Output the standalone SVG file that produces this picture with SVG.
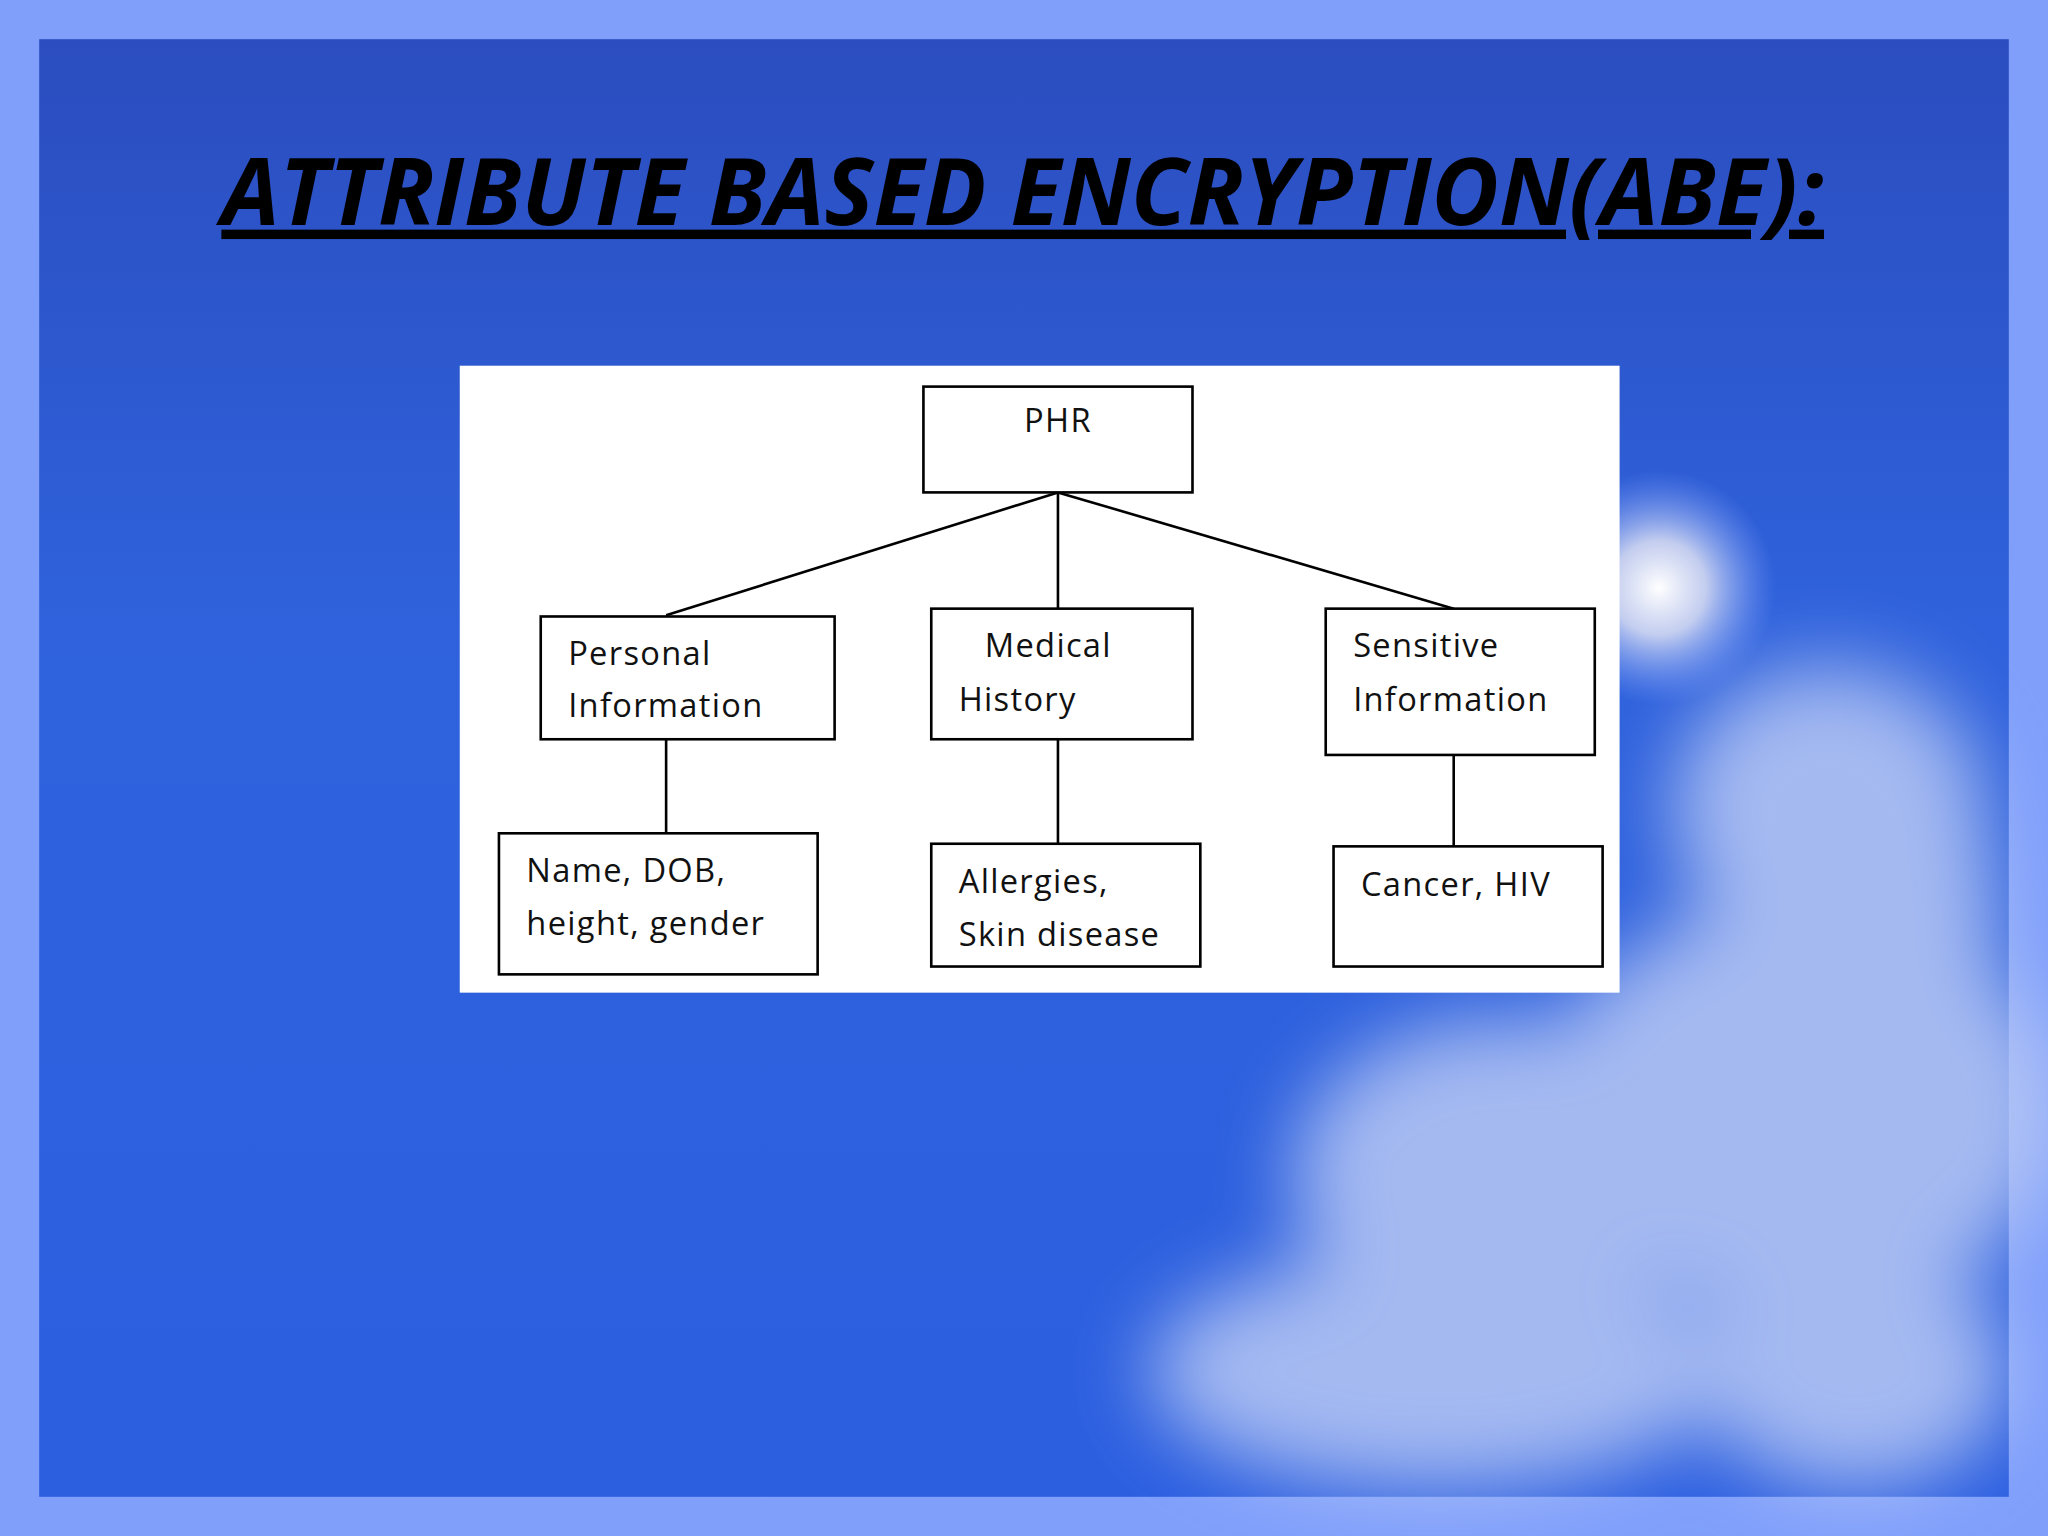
<svg xmlns="http://www.w3.org/2000/svg" width="2048" height="1536" viewBox="0 0 2048 1536">
<style>
.b{fill:#fff;stroke:#000;stroke-width:2}
.t{font-family:"Open Sans","DejaVu Sans",sans-serif;font-size:25px;fill:#111;letter-spacing:1px}
.c line{stroke:#000;stroke-width:2}
</style>
<defs>
<linearGradient id="bg" x1="0" y1="0" x2="0" y2="1">
<stop offset="0" stop-color="#2b4dbf"/><stop offset="0.4" stop-color="#2f62dc"/><stop offset="1" stop-color="#2c5fe0"/>
</linearGradient>
<radialGradient id="sun"><stop offset="0" stop-color="#fff"/><stop offset="0.4" stop-color="#e8e8f4" stop-opacity="0.8"/><stop offset="1" stop-color="#8aa8ff" stop-opacity="0"/></radialGradient>
<filter id="blur" x="-50%" y="-50%" width="200%" height="200%"><feGaussianBlur stdDeviation="30"/></filter>
</defs>
<g transform="scale(1.30612)">
<rect width="1568" height="1176" fill="#7f9ffb"/>
<rect x="30" y="30" width="1508" height="1116" fill="url(#bg)"/>
<g filter="url(#blur)" fill="#b9c9f4" opacity="0.85">
<ellipse cx="1400" cy="620" rx="120" ry="110"/>
<ellipse cx="1380" cy="850" rx="200" ry="160"/>
<ellipse cx="1150" cy="900" rx="160" ry="120"/>
<ellipse cx="1100" cy="1050" rx="220" ry="90"/>
<ellipse cx="1420" cy="1050" rx="120" ry="90"/>
<ellipse cx="1460" cy="700" rx="70" ry="120"/>
</g>
<circle cx="1270" cy="450" r="90" fill="url(#sun)"/>
<text x="783" y="172" text-anchor="middle" font-family="'Open Sans','Liberation Sans',sans-serif" font-weight="bold" font-style="italic" font-size="72" text-decoration="underline" textLength="1227" lengthAdjust="spacingAndGlyphs">ATTRIBUTE BASED ENCRYPTION(ABE):</text>
<rect x="352" y="280" width="888" height="480" fill="#fff"/>
<g class="c" id="connectors">
<line x1="810" y1="377" x2="510" y2="471"/>
<line x1="810" y1="377" x2="810" y2="466"/>
<line x1="810" y1="377" x2="1113" y2="466"/>
<line x1="510" y1="566" x2="510" y2="638"/>
<line x1="810" y1="566" x2="810" y2="646"/>
<line x1="1113" y1="578" x2="1113" y2="648"/>
</g>
<g id="phr"><rect class="b" x="707" y="296" width="206" height="81"/><text class="t" x="810" y="331" text-anchor="middle">PHR</text></g>
<g id="personal"><rect class="b" x="414" y="472" width="225" height="94"/><text class="t" x="435" y="509">Personal</text><text class="t" x="435" y="549">Information</text></g>
<g id="medical"><rect class="b" x="713" y="466" width="200" height="100"/><text class="t" x="754" y="503">Medical</text><text class="t" x="734" y="544">History</text></g>
<g id="sensitive"><rect class="b" x="1015" y="466" width="206" height="112"/><text class="t" x="1036" y="503">Sensitive</text><text class="t" x="1036" y="544">Information</text></g>
<g id="name"><rect class="b" x="382" y="638" width="244" height="108"/><text class="t" x="403" y="675">Name, DOB,</text><text class="t" x="403" y="716">height, gender</text></g>
<g id="allergies"><rect class="b" x="713" y="646" width="206" height="94"/><text class="t" x="734" y="684">Allergies,</text><text class="t" x="734" y="724">Skin disease</text></g>
<g id="cancer"><rect class="b" x="1021" y="648" width="206" height="92"/><text class="t" x="1042" y="686">Cancer, HIV</text></g>
</g>
</svg>
